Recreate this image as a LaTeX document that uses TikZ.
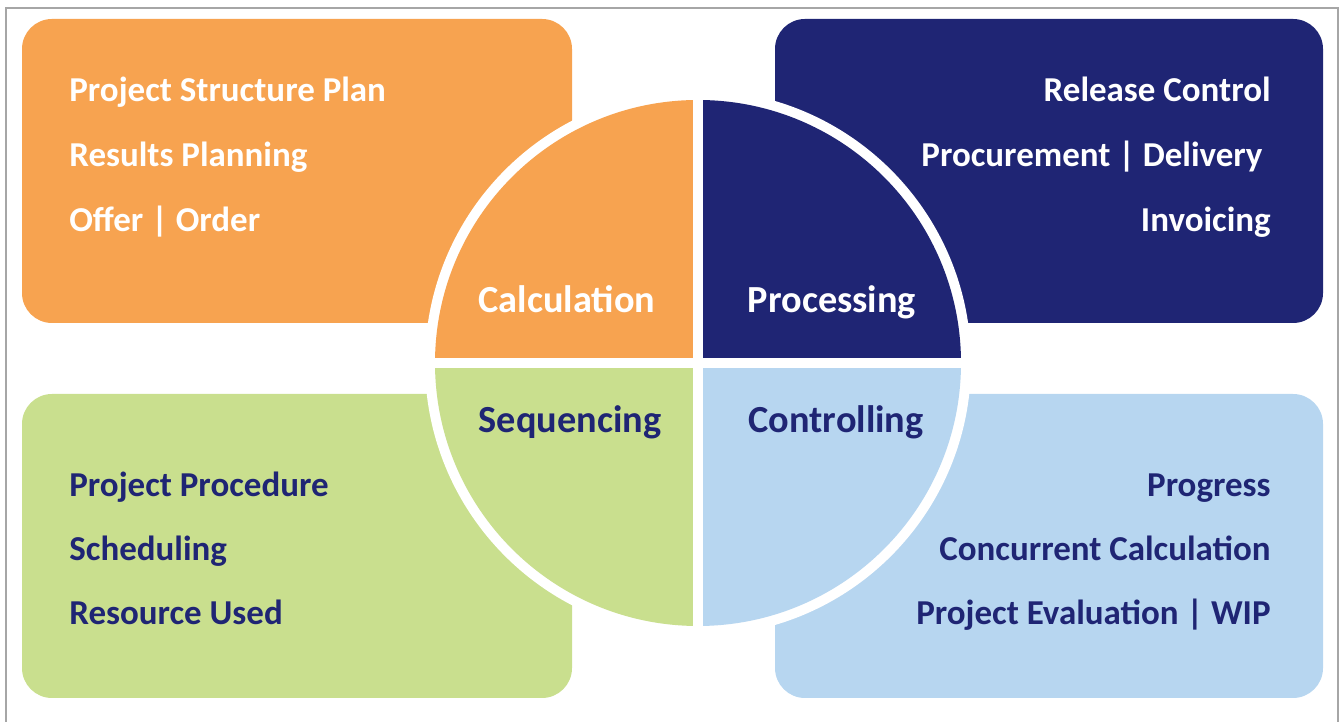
\documentclass[tikz,border=0pt]{standalone}
\usepackage{fontspec}
\setmainfont{Carlito}
\usetikzlibrary{calc}
\definecolor{calcorange}{HTML}{F7A350}
\definecolor{procnavy}{HTML}{1F2574}
\definecolor{seqgreen}{HTML}{C9DF8E}
\definecolor{ctrlblue}{HTML}{B7D6F0}
\definecolor{framegray}{HTML}{A6A6A6}

\begin{document}
\begin{tikzpicture}[
  x=0.02cm,y=0.02cm,
  tile/.style={rounded corners=0.6cm},
  item/.style={inner sep=0pt,font=\bfseries\fontsize{19.9}{20}\selectfont},
  quadlabel/.style={inner sep=0pt,anchor=base,font=\bfseries\fontsize{21.8}{22}\selectfont}
]

\useasboundingbox (0,0) rectangle (1341,722);
\draw[framegray,line width=0.04cm] (6,-20) -- (6,714) -- (1338,714) -- (1338,-20);

% corner tiles
\fill[tile,calcorange] (22,399) rectangle (572,703);
\fill[tile,procnavy] (775,399) rectangle (1323,703);
\fill[tile,seqgreen] (22,24) rectangle (572,328);
\fill[tile,ctrlblue] (775,24) rectangle (1323,328);

% the wheel
\coordinate (hub) at (698,359);
\fill[white] (hub) circle[radius=273];
\fill[calcorange] (hub) -- ++(0,263) arc[start angle=90,end angle=180,radius=263] -- cycle;
\fill[procnavy] (hub) -- ++(263,0) arc[start angle=0,end angle=90,radius=263] -- cycle;
\fill[seqgreen] (hub) -- ++(-263,0) arc[start angle=180,end angle=270,radius=263] -- cycle;
\fill[ctrlblue] (hub) -- ++(0,-263) arc[start angle=270,end angle=360,radius=263] -- cycle;
\draw[white,line width=0.2cm] ($(hub)+(0,-270)$) -- ($(hub)+(0,270)$);
\draw[white,line width=0.2cm] ($(hub)+(-270,0)$) -- ($(hub)+(270,0)$);

\node[quadlabel,white] (calc) at (567,409) {Calculation};
\node[quadlabel,white] (proc) at (832,409) {Processing};
\node[quadlabel,procnavy] (seq) at (570,289) {Sequencing};
\node[quadlabel,procnavy] (ctrl) at (836,289) {Controlling};

% calculation items
\node[item,white,anchor=base west] (psp) at (69,620) {Project Structure Plan};
\node[item,white,anchor=base west] (plan) at (69,555) {Results Planning};
\node[item,white,anchor=base west] (offer) at (69,490) {Offer | Order};

% processing items
\node[item,white,anchor=base east] (release) at (1271,620) {Release Control};
\node[item,white,anchor=base east] (procure) at (1263,555) {Procurement | Delivery};
\node[item,white,anchor=base east] (invoice) at (1271,490) {Invoicing};

% sequencing items
\node[item,procnavy,anchor=base west] (procedure) at (69,225) {Project Procedure};
\node[item,procnavy,anchor=base west] (sched) at (69,161) {Scheduling};
\node[item,procnavy,anchor=base west] (resource) at (69,97) {Resource Used};

% controlling items
\node[item,procnavy,anchor=base east] (progress) at (1271,225) {Progress};
\node[item,procnavy,anchor=base east] (concur) at (1271,161) {Concurrent Calculation};
\node[item,procnavy,anchor=base east] (evaluation) at (1271,97) {Project Evaluation | WIP};

\end{tikzpicture}
\end{document}
